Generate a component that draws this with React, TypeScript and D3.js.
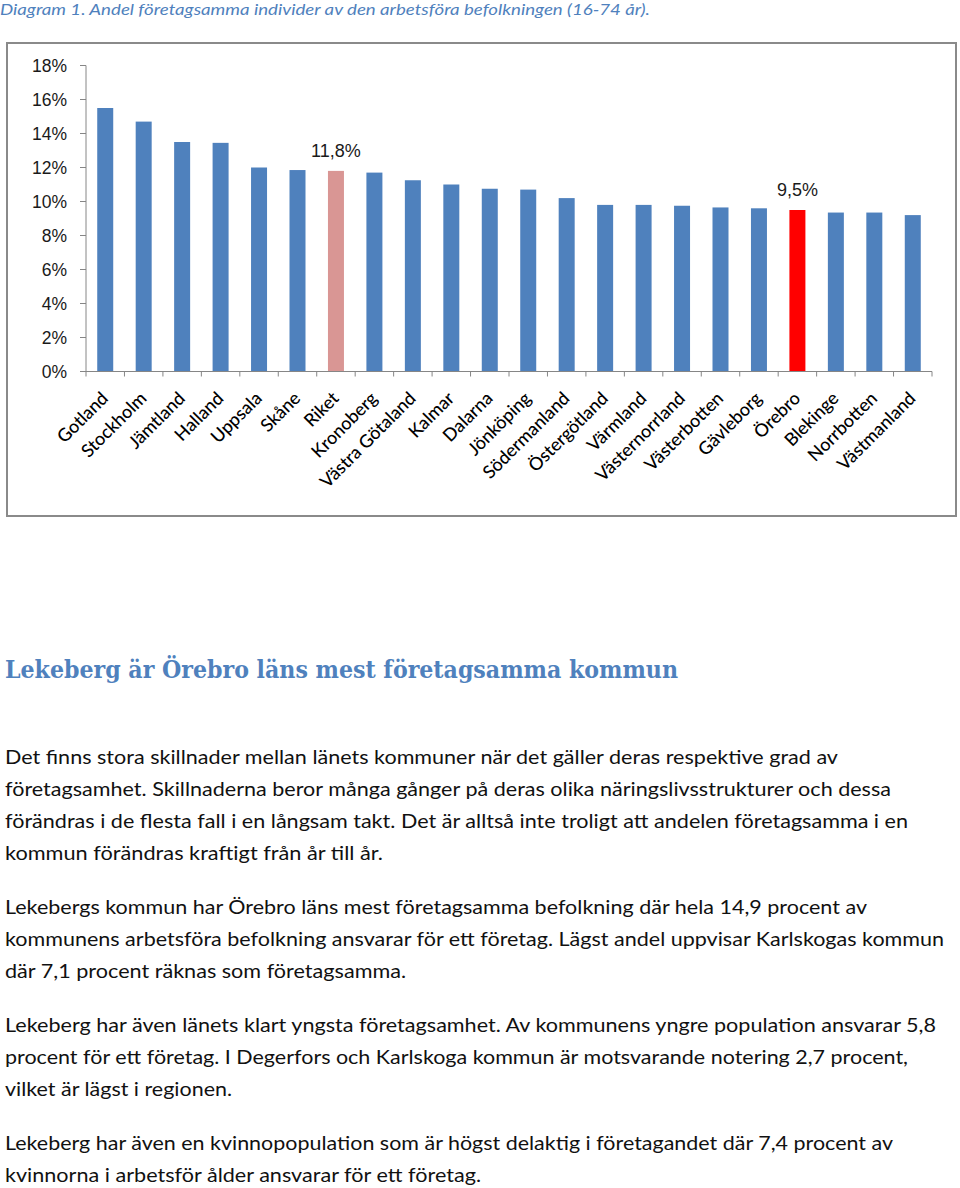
import React from "react";
import * as d3 from "d3";

const categories = ["Gotland","Stockholm","Jämtland","Halland","Uppsala","Skåne","Riket","Kronoberg","Västra Götaland","Kalmar","Dalarna","Jönköping","Södermanland","Östergötland","Värmland","Västernorrland","Västerbotten","Gävleborg","Örebro","Blekinge","Norrbotten","Västmanland"];
const values = [15.5,14.7,13.5,13.45,12.0,11.85,11.8,11.7,11.25,11.0,10.75,10.7,10.2,9.8,9.8,9.75,9.65,9.6,9.5,9.35,9.35,9.2];
const highlightRiket = "Riket";
const highlightOrebro = "Örebro";
const yTicks = [0,2,4,6,8,10,12,14,16,18];
const dataLabels: Record<string,string> = { "Riket": "11,8%", "Örebro": "9,5%" };

const titleText = "Diagram 1. Andel företagsamma individer av den arbetsföra befolkningen (16-74 år).";
const headingText = "Lekeberg är Örebro läns mest företagsamma kommun";
const paragraphs: { text: string; w: number }[][] = [
  [
    { text: "Det finns stora skillnader mellan länets kommuner när det gäller deras respektive grad av", w: 833 },
    { text: "företagsamhet. Skillnaderna beror många gånger på deras olika näringslivsstrukturer och dessa", w: 886 },
    { text: "förändras i de flesta fall i en långsam takt. Det är alltså inte troligt att andelen företagsamma i en", w: 903 },
    { text: "kommun förändras kraftigt från år till år.", w: 378 },
  ],
  [
    { text: "Lekebergs kommun har Örebro läns mest företagsamma befolkning där hela 14,9 procent av", w: 862 },
    { text: "kommunens arbetsföra befolkning ansvarar för ett företag. Lägst andel uppvisar Karlskogas kommun", w: 939 },
    { text: "där 7,1 procent räknas som företagsamma.", w: 401 },
  ],
  [
    { text: "Lekeberg har även länets klart yngsta företagsamhet. Av kommunens yngre population ansvarar 5,8", w: 931 },
    { text: "procent för ett företag. I Degerfors och Karlskoga kommun är motsvarande notering 2,7 procent,", w: 903 },
    { text: "vilket är lägst i regionen.", w: 227 },
  ],
  [
    { text: "Lekeberg har även en kvinnopopulation som är högst delaktig i företagandet där 7,4 procent av", w: 888 },
    { text: "kvinnorna i arbetsför ålder ansvarar för ett företag.", w: 476 },
  ],
];

const plotLeft = 86, plotRight = 932, plotTop = 65.5, plotBottom = 371.5;
const paraStarts = [764, 914, 1032, 1150];

export default function App() {
  const x = d3.scaleBand<string>().domain(categories).range([plotLeft, plotRight]).paddingInner(0.584).paddingOuter(0.292);
  const y = d3.scaleLinear().domain([0, 18]).range([plotBottom, plotTop]);
  const step = x.step();
  const axisColor = "#868686";
  const sans = "Lato, 'Open Sans', sans-serif";
  const arial = "'Liberation Sans', Arial, sans-serif";

  return (
    <svg width={960} height={1188} style={{ position: "absolute", left: 0, top: 0, background: "#fff" }}>
      <rect x={0} y={0} width={960} height={1188} fill="#fff" />
      <text x={0} y={15} fontFamily={sans} fontStyle="italic" fontSize={16} fill="#4F81BD" textLength={650} lengthAdjust="spacingAndGlyphs">{titleText}</text>

      <rect x={7} y={43} width={949} height={473} fill="#fff" stroke="#8a8a8a" strokeWidth={2} />

      {/* y axis */}
      <line x1={plotLeft} x2={plotLeft} y1={plotTop} y2={plotBottom} stroke={axisColor} strokeWidth={1} />
      {yTicks.map((t) => (
        <g key={t}>
          <line x1={plotLeft - 6} x2={plotLeft} y1={y(t)} y2={y(t)} stroke={axisColor} />
          <text x={67} y={y(t)} dy="0.36em" textAnchor="end" fontFamily={arial} fontSize={17.5} fill="#1a1a1a">{t}%</text>
        </g>
      ))}

      {/* bars */}
      {categories.map((c, i) => (
        <rect key={c} x={x(c)} y={y(values[i])} width={x.bandwidth()} height={y(0) - y(values[i])}
          fill={c === highlightOrebro ? "#FF0000" : c === highlightRiket ? "#D99694" : "#4F81BD"} />
      ))}

      {/* x axis */}
      <line x1={plotLeft} x2={plotRight} y1={plotBottom} y2={plotBottom} stroke={axisColor} />
      {d3.range(categories.length + 1).map((i) => (
        <line key={i} x1={plotLeft + i * step} x2={plotLeft + i * step} y1={plotBottom} y2={plotBottom + 5} stroke={axisColor} />
      ))}

      {/* data labels */}
      {categories.map((c, i) => dataLabels[c] ? (
        <text key={c} x={(x(c) as number) + x.bandwidth() / 2} y={y(values[i]) - 14} textAnchor="middle" fontFamily={arial} fontSize={18} fill="#1a1a1a">{dataLabels[c]}</text>
      ) : null)}

      {/* category labels */}
      {categories.map((c) => {
        const cx = (x(c) as number) + x.bandwidth() / 2 + 4;
        return (
          <text key={c} transform={`translate(${cx},${plotBottom + 28}) rotate(-45)`} textAnchor="end" fontFamily={sans} fontSize={18} fontWeight={500} fill="#000">{c}</text>
        );
      })}

      <text x={5} y={678} fontFamily="'DejaVu Serif', serif" fontWeight="bold" fontSize={24} fill="#4F81BD" textLength={673} lengthAdjust="spacingAndGlyphs">{headingText}</text>

      {paragraphs.map((p, pi) => p.map((l, li) => (
        <text key={`${pi}-${li}`} x={5} y={paraStarts[pi] + li * 32} fontFamily={sans} fontSize={19} fill="#111" textLength={l.w} lengthAdjust="spacingAndGlyphs">{l.text}</text>
      )))}
    </svg>
  );
}
